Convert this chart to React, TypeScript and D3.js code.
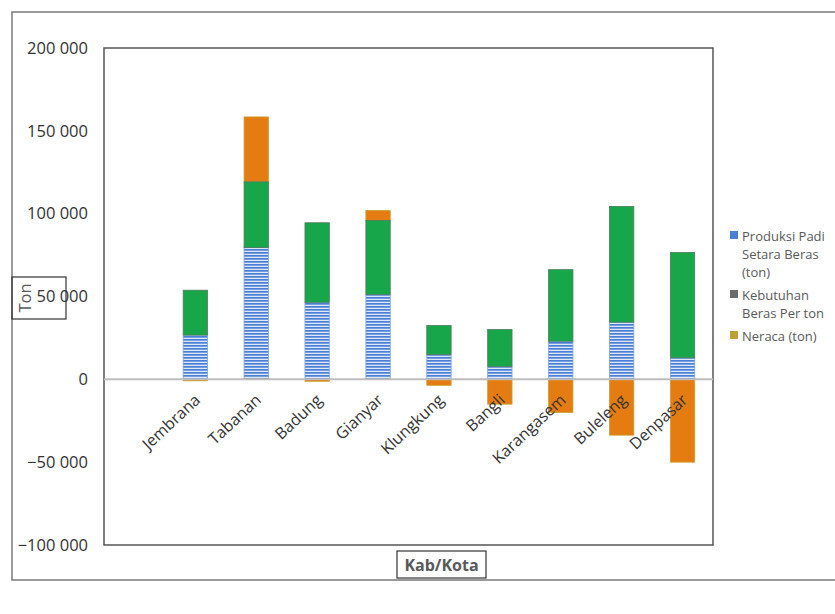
import React from "react";
import * as d3 from "d3";

const categories = ["", "Jembrana", "Tabanan", "Badung", "Gianyar", "Klungkung", "Bangli", "Karangasem", "Buleleng", "Denpasar"];
const produksi = [0, 26700, 79500, 46500, 51200, 15000, 7800, 23000, 34500, 13000];
const kebutuhan = [0, 27100, 39700, 48000, 44700, 17500, 22300, 43200, 69900, 63600];
const neraca = [0, -700, 39200, -1200, 6000, -3600, -15000, -20000, -33700, -50000];
const yTicks = [200000, 150000, 100000, 50000, 0, -50000, -100000];
const legendItems = [
  { lines: ["Produksi Padi", "Setara Beras", "(ton)"], color: "#4a7fd6", y: 231 },
  { lines: ["Kebutuhan", "Beras Per ton"], color: "#6b6b6b", y: 290 },
  { lines: ["Neraca (ton)"], color: "#bfa035", y: 331 },
];

const W = 835, H = 614;
const plot = { left: 104, right: 713, top: 48, bottom: 545 };
const font = "'Open Sans', sans-serif";

export default function App() {
  const x = d3.scaleBand<string>().domain(categories.map((c, i) => String(i))).range([plot.left, plot.right]).paddingInner(0.6).paddingOuter(0.3);
  const y = d3.scaleLinear().domain([-100000, 200000]).range([plot.bottom, plot.top]);
  const fmt = (v: number) => d3.format(",")(v).replace(/,/g, " ");
  const bw = x.bandwidth();

  return (
    <svg width={W} height={H} style={{ position: "absolute", left: 0, top: 0, background: "#fff" }}>
      <defs>
        <pattern id="stripes" patternUnits="userSpaceOnUse" width="6" height="3">
          <rect x="0" y="0" width="6" height="3" fill="#dfe8f7" />
          <rect x="0" y="0" width="6" height="1.7" fill="#4a7fd6" />
        </pattern>
      </defs>
      <rect x={12} y={12} width={900} height={568} fill="none" stroke="#7a7a7a" strokeWidth={1.5} />
      <rect x={plot.left} y={plot.top} width={plot.right - plot.left} height={plot.bottom - plot.top} fill="none" stroke="#555" strokeWidth={1.5} />
      {yTicks.map((t) => (
        <text key={t} x={88} y={y(t)} dy="0.35em" textAnchor="end" fontFamily={font} fontSize={16.5} fill="#333">
          {fmt(t)}
        </text>
      ))}
      {categories.map((c, i) => {
        if (!c) return null;
        const x0 = x(String(i))!;
        const p = produksi[i], k = kebutuhan[i], n = neraca[i];
        const nTop = n >= 0 ? y(p + k + n) : y(0);
        const nBot = n >= 0 ? y(p + k) : y(n);
        return (
          <g key={c}>
            <rect x={x0} y={nTop} width={bw} height={Math.max(1.5, nBot - nTop)} fill="#e57c12" stroke="#c9a030" strokeWidth={0.8} />
            <rect x={x0} y={y(p)} width={bw} height={y(0) - y(p)} fill="url(#stripes)" stroke="#7aa3e0" strokeWidth={0.8} />
            <rect x={x0} y={y(p + k)} width={bw} height={y(p) - y(p + k)} fill="#17a64a" stroke="#4f7a5e" strokeWidth={0.8} />
          </g>
        );
      })}
      <line x1={plot.left} x2={plot.right} y1={y(0)} y2={y(0)} stroke="#bdbdbd" strokeWidth={2} />
      {categories.map((c, i) => {
        if (!c) return null;
        const cx = x(String(i))! + bw / 2 + 6;
        const cy = y(0) + 22;
        return (
          <text key={c} x={cx} y={cy} transform={`rotate(-43 ${cx} ${cy})`} textAnchor="end" fontFamily={font} fontSize={16} fill="#333">
            {c}
          </text>
        );
      })}
      <rect x={397} y={551} width={89} height={27} fill="#fff" stroke="#333" strokeWidth={1.2} />
      <text x={441.5} y={570.5} textAnchor="middle" fontFamily={font} fontSize={16} fontWeight="bold" fill="#595959">Kab/Kota</text>
      <rect x={12} y={277} width={54} height={42} fill="none" stroke="#333" strokeWidth={1.2} />
      <text x={31} y={298} transform="rotate(-90 31 298)" textAnchor="middle" fontFamily={font} fontSize={16.5} fill="#595959">Ton</text>
      <g fontFamily={font} fontSize={13} fill="#595959">
        {legendItems.map((it) => (
          <g key={it.lines[0]}>
            <rect x={730} y={it.y} width={8} height={8} fill={it.color} />
            {it.lines.map((l, j) => (
              <text key={l} x={742} y={it.y + 9.5 + j * 18}>{l}</text>
            ))}
          </g>
        ))}
      </g>
    </svg>
  );
}
